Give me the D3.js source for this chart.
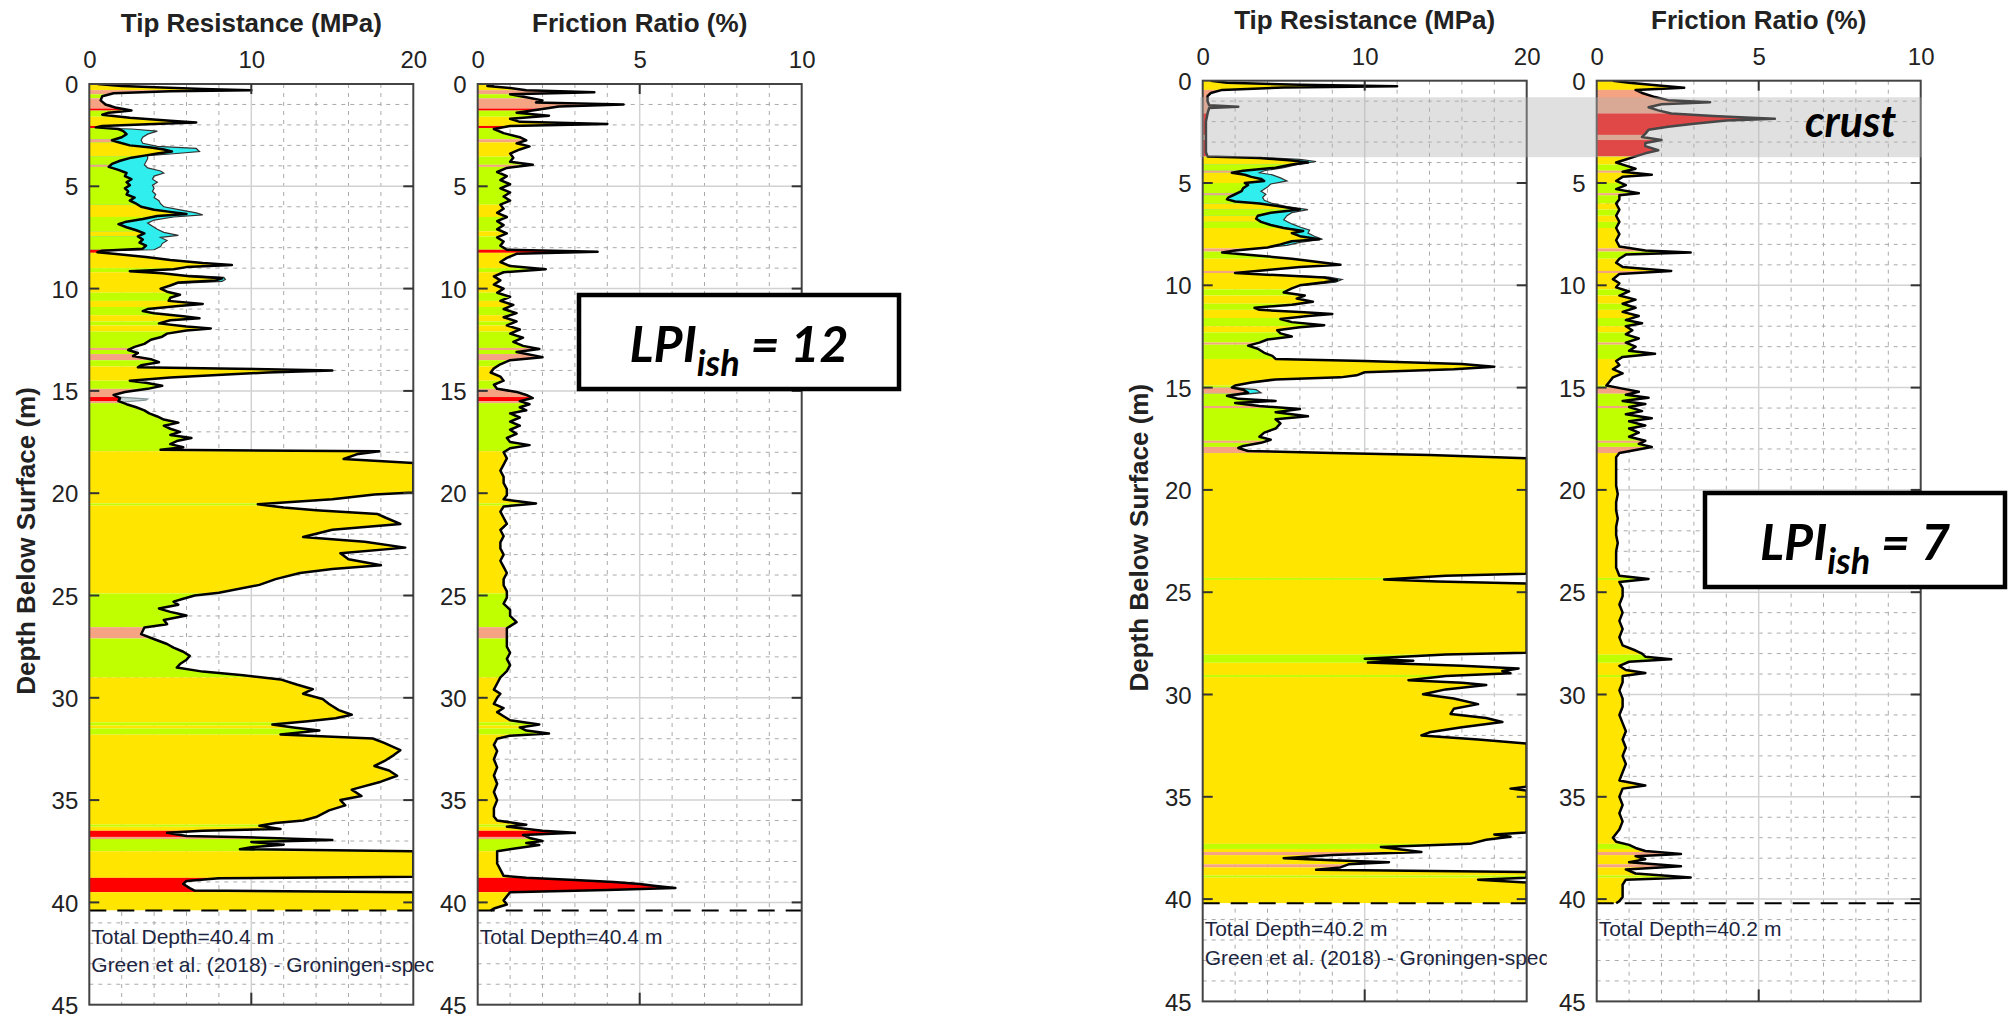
<!DOCTYPE html>
<html>
<head>
<meta charset="utf-8">
<script src="https://cdn.jsdelivr.net/npm/d3@7"></script>
<style>
  body { margin: 0; background: #fff; }
  svg { display: block; }
</style>
</head>
<body>
<svg id="chart" width="2009" height="1018"></svg>
<script>
// soil behaviour type colours
const zoneFill = {S: "#ffe500", SM: "#bfff00", M: "#f5a383", C: "#ff0000"}

const depthTicks = [0, 5, 10, 15, 20, 25, 30, 35, 40, 45]
const qcTicks = [0, 10, 20]
const rfTicks = [0, 5, 10]

// ---- left CPT (LPIish = 12) ----
// zones: [top depth, bottom depth, type]
const leftZones = [[0,0.3,"S"],[0.3,0.5,"M"],[0.5,0.7,"SM"],[0.7,1.2,"M"],[1.2,1.3,"C"],[1.3,1.6,"SM"],[1.6,2.05,"S"],[2.05,2.15,"C"],[2.15,2.7,"SM"],[2.7,2.85,"M"],[2.85,3.55,"S"],[3.55,3.95,"SM"],[3.95,4.05,"M"],[4.05,5.9,"SM"],[5.9,6.5,"S"],[6.5,7.2,"SM"],[7.2,7.45,"S"],[7.45,8.1,"SM"],[8.1,8.25,"C"],[8.25,9.0,"S"],[9.0,9.2,"SM"],[9.2,10.2,"S"],[10.2,10.6,"SM"],[10.6,10.9,"S"],[10.9,11.3,"SM"],[11.3,11.6,"S"],[11.6,11.8,"SM"],[11.8,12.1,"S"],[12.1,12.9,"SM"],[12.9,13.0,"M"],[13.0,13.2,"SM"],[13.2,13.5,"M"],[13.5,13.8,"SM"],[13.8,14.5,"S"],[14.5,14.9,"SM"],[14.9,15.3,"M"],[15.3,15.5,"C"],[15.5,15.6,"M"],[15.6,17.95,"SM"],[17.95,20.5,"S"],[20.5,20.6,"SM"],[20.6,24.9,"S"],[24.9,26.55,"SM"],[26.55,27.1,"M"],[27.1,29.0,"SM"],[29.0,31.2,"S"],[31.2,31.35,"SM"],[31.35,31.5,"S"],[31.5,31.8,"SM"],[31.8,36.2,"S"],[36.2,36.3,"SM"],[36.3,36.5,"S"],[36.5,36.8,"C"],[36.8,36.9,"M"],[36.9,37.5,"SM"],[37.5,38.8,"S"],[38.8,39.5,"C"],[39.5,40.4,"S"]]

// tip resistance: [depth m, qc MPa]
const leftQc = [[0,0.5],[0.1,2],[0.25,7],[0.3,10],[0.36,5],[0.45,1.5],[0.6,0.8],[0.8,0.7],[1.0,1.0],[1.15,1.6],[1.3,2.6],[1.4,1.2],[1.5,0.8],[1.65,2.5],[1.8,5],[1.88,6.6],[1.95,4],[2.05,0.8],[2.12,0.4],[2.2,1.8],[2.3,2.1],[2.45,2.3],[2.6,2.0],[2.75,1.4],[2.85,1.8],[3.0,2.5],[3.1,3.8],[3.2,4.6],[3.3,5.1],[3.4,4.2],[3.5,3.4],[3.6,2.6],[3.75,1.9],[3.9,1.4],[4.05,1.2],[4.2,1.8],[4.35,2.3],[4.5,2.2],[4.65,2.6],[4.8,2.3],[4.95,2.5],[5.1,2.2],[5.25,2.4],[5.4,2.3],[5.55,2.8],[5.7,2.5],[5.85,2.9],[6.0,3.2],[6.15,4.0],[6.25,5.0],[6.35,6.0],[6.45,4.2],[6.6,3.3],[6.75,2.2],[6.85,1.8],[7.0,2.3],[7.15,2.9],[7.3,3.4],[7.45,3.0],[7.6,3.3],[7.75,3.1],[7.9,3.5],[8.05,3.3],[8.15,0.8],[8.22,0.5],[8.3,1.5],[8.45,3.5],[8.6,5.0],[8.75,7.0],[8.85,8.8],[8.95,6.0],[9.05,5.2],[9.15,2.5],[9.25,4.5],[9.4,6.2],[9.5,8.2],[9.6,7.8],[9.7,5.5],[9.85,5.0],[10.0,4.4],[10.15,4.8],[10.3,5.6],[10.45,5.0],[10.6,4.9],[10.75,7.0],[10.85,5.5],[11.0,3.6],[11.1,3.3],[11.2,4.0],[11.35,5.8],[11.45,6.8],[11.55,5.0],[11.7,4.3],[11.85,6.0],[11.95,7.5],[12.05,6.0],[12.2,4.8],[12.35,4.5],[12.5,3.8],[12.7,3.4],[12.85,2.8],[13.0,2.4],[13.15,3.0],[13.3,2.7],[13.45,3.8],[13.6,4.3],[13.75,3.2],[13.85,3.0],[13.9,8.0],[14.0,15.0],[14.1,11.0],[14.2,8.5],[14.35,5.0],[14.5,2.5],[14.6,3.5],[14.75,4.5],[14.9,3.6],[15.05,2.2],[15.2,1.5],[15.35,1.9],[15.5,1.8],[15.65,2.3],[15.8,2.9],[15.95,3.4],[16.1,3.7],[16.25,4.2],[16.4,4.6],[16.55,5.5],[16.7,4.6],[16.85,5.0],[17.0,5.6],[17.15,5.0],[17.3,6.3],[17.45,5.4],[17.6,5.0],[17.75,5.8],[17.88,4.4],[17.95,17.9],[18.1,16.5],[18.33,15.7],[18.52,20],[19.96,20],[20.06,17.6],[20.3,15],[20.54,10.4],[20.7,12],[20.83,14],[21.02,17.8],[21.2,18.3],[21.5,19.2],[21.79,15],[22.14,13.2],[22.37,17],[22.66,19.5],[22.94,15.5],[23.23,16],[23.52,18],[23.7,15],[23.9,13],[24.2,11.5],[24.48,10.5],[24.87,8],[25.0,6.5],[25.16,5.8],[25.3,5.2],[25.45,5.5],[25.64,4.3],[25.8,5.0],[25.98,6.0],[26.2,4.6],[26.4,4.8],[26.56,3.4],[26.89,3.2],[27.1,3.9],[27.37,4.8],[27.55,5.2],[27.75,5.8],[27.95,6.2],[28.14,6.0],[28.35,5.6],[28.52,5.4],[28.72,7],[28.9,9.5],[29.1,11.8],[29.35,12.8],[29.58,13.8],[29.8,13.2],[30.06,14.4],[30.3,14.8],[30.6,15.4],[30.83,16.2],[31.0,15.2],[31.15,13.5],[31.31,11.3],[31.45,12.6],[31.6,14.2],[31.79,11.8],[31.99,17.5],[32.2,18.2],[32.56,19.2],[32.8,18.8],[33.1,18.2],[33.33,17.6],[33.55,18.5],[33.81,19.0],[34.1,18.0],[34.49,16.2],[34.8,16.8],[35.0,15.5],[35.26,15.8],[35.5,14.8],[35.83,14.0],[36.0,13.2],[36.12,11.5],[36.25,10.5],[36.41,11.8],[36.5,7],[36.6,4.8],[36.75,6],[36.8,9],[36.95,15],[37.05,10],[37.18,12],[37.3,10],[37.4,9.3],[37.5,20],[38.75,20],[38.82,8],[38.95,6.0],[39.1,5.8],[39.3,6.2],[39.42,6.5],[39.5,20],[40.4,20]]

// cyan (clean-sand equivalent) outline, one list per stretch
const leftCyan = [
  [[2.15,0.4],[2.2,2.6],[2.3,4.2],[2.45,3.6],[2.6,3.3],[2.75,3.2],[2.9,3.3],[3.05,4.2],[3.15,6.6],[3.3,6.8],[3.42,5.0],[3.5,3.6],[3.65,3.6],[3.8,3.5],[3.95,3.4],[4.1,3.6],[4.25,4.4],[4.35,4.6],[4.5,4.0],[4.65,3.9],[4.8,4.2],[4.95,3.9],[5.1,4.0],[5.25,3.9],[5.4,4.1],[5.55,4.0],[5.7,4.3],[5.85,4.4],[6.0,4.6],[6.15,5.6],[6.3,6.6],[6.4,7.0],[6.5,5.2],[6.65,4.0],[6.8,3.6],[6.95,3.9],[7.1,4.2],[7.25,4.6],[7.4,5.5],[7.5,4.4],[7.65,4.8],[7.8,4.5],[7.95,4.4],[8.1,4.0],[8.15,0.8]],
  [[9.35,6.2],[9.45,8.3],[9.55,8.4],[9.65,8.2],[9.75,5.5]]
]
// faint grey spike at 15.4 m
const leftGrey = [[15.3,1.9],[15.4,3.6],[15.45,3.5],[15.55,2.0]]

// friction ratio: [depth m, Rf %]
const leftRf = [[0,0.5],[0.1,0.3],[0.2,1.0],[0.3,1.5],[0.4,3.6],[0.5,1.0],[0.65,1.5],[0.8,2.0],[0.9,1.8],[1.0,4.5],[1.1,2.5],[1.25,1.9],[1.4,1.2],[1.55,2.2],[1.7,1.0],[1.85,1.3],[1.95,4.0],[2.05,1.0],[2.2,0.5],[2.4,0.8],[2.6,1.3],[2.75,1.5],[2.9,1.2],[3.05,1.6],[3.2,1.3],[3.4,1.0],[3.6,1.1],[3.8,1.0],[3.95,1.7],[4.1,0.9],[4.3,0.6],[4.5,0.9],[4.7,0.7],[4.9,1.0],[5.1,0.7],[5.3,1.0],[5.5,0.8],[5.7,1.0],[5.9,0.7],[6.1,0.8],[6.3,0.6],[6.5,0.9],[6.7,0.6],[6.9,0.8],[7.1,0.6],[7.3,0.9],[7.5,0.6],[7.7,0.8],[7.9,0.7],[8.1,0.9],[8.2,3.7],[8.3,1.2],[8.5,0.9],[8.7,0.7],[8.9,1.0],[9.05,2.1],[9.2,0.8],[9.4,0.5],[9.6,0.7],[9.8,0.5],[10.0,0.8],[10.2,0.6],[10.4,1.0],[10.6,0.7],[10.8,1.1],[11.0,0.8],[11.2,1.2],[11.4,0.8],[11.6,1.2],[11.8,0.9],[12.0,1.3],[12.2,1.0],[12.4,1.4],[12.6,1.1],[12.8,1.4],[12.95,1.9],[13.1,1.2],[13.35,2.0],[13.5,1.0],[13.7,0.7],[13.9,0.5],[14.1,0.4],[14.3,0.7],[14.5,0.8],[14.7,0.5],[14.9,0.6],[15.05,1.2],[15.2,1.5],[15.35,1.7],[15.5,1.3],[15.65,1.6],[15.8,1.3],[15.95,1.5],[16.1,1.0],[16.3,1.3],[16.5,1.0],[16.7,1.3],[16.9,1.0],[17.1,1.2],[17.3,0.9],[17.5,1.0],[17.65,1.6],[17.8,1.0],[18.0,0.8],[18.3,0.9],[18.6,0.8],[18.9,0.7],[19.2,0.8],[19.5,0.8],[19.8,0.9],[20.1,0.9],[20.3,0.8],[20.5,1.8],[20.65,0.8],[20.9,0.7],[21.2,0.8],[21.5,0.9],[21.8,0.7],[22.1,0.8],[22.4,0.7],[22.7,0.7],[23.0,0.8],[23.3,0.7],[23.6,0.8],[23.9,0.9],[24.2,0.8],[24.5,0.8],[24.8,0.9],[25.1,0.9],[25.4,0.8],[25.7,1.0],[26.0,1.0],[26.3,1.2],[26.6,0.9],[26.9,0.9],[27.2,0.9],[27.5,0.9],[27.8,1.0],[28.1,0.9],[28.4,1.0],[28.7,0.9],[29.0,0.7],[29.3,0.6],[29.6,0.5],[29.8,0.7],[30.0,0.6],[30.3,0.5],[30.5,0.8],[30.7,0.6],[30.9,0.8],[31.1,1.0],[31.3,1.9],[31.45,1.3],[31.6,1.5],[31.75,2.2],[31.85,1.0],[32.0,0.6],[32.3,0.5],[32.6,0.6],[33.0,0.5],[33.4,0.6],[33.8,0.5],[34.2,0.6],[34.6,0.5],[35.0,0.6],[35.4,0.5],[35.8,0.5],[36.0,0.6],[36.2,1.5],[36.3,0.9],[36.5,2.0],[36.6,3.0],[36.7,1.4],[36.85,1.6],[37.0,2.0],[37.1,1.5],[37.2,1.9],[37.35,1.2],[37.5,0.6],[37.8,0.6],[38.1,0.6],[38.4,0.7],[38.7,0.8],[38.8,1.5],[38.9,3.0],[39.0,4.2],[39.1,5.0],[39.2,5.5],[39.3,6.1],[39.4,4.0],[39.5,1.0],[39.7,0.9],[39.9,0.8],[40.1,0.9],[40.3,0.5],[40.4,0.4]]

// ---- right CPT (LPIish = 7) ----
const rightZones = [[0,0.45,"S"],[0.45,1.6,"M"],[1.6,2.65,"C"],[2.65,2.9,"M"],[2.9,3.7,"C"],[3.7,4.1,"S"],[4.1,4.4,"SM"],[4.4,4.5,"M"],[4.5,5.0,"S"],[5.0,5.5,"SM"],[5.5,5.6,"M"],[5.6,6.0,"SM"],[6.0,6.3,"S"],[6.3,6.6,"SM"],[6.6,6.9,"S"],[6.9,7.2,"SM"],[7.2,8.2,"S"],[8.2,8.35,"M"],[8.35,8.7,"SM"],[8.7,9.3,"S"],[9.3,9.4,"M"],[9.4,10.2,"S"],[10.2,10.5,"SM"],[10.5,10.9,"S"],[10.9,11.2,"SM"],[11.2,11.6,"S"],[11.6,12.0,"SM"],[12.0,12.3,"S"],[12.3,12.8,"SM"],[12.8,12.9,"M"],[12.9,13.6,"SM"],[13.6,14.9,"S"],[14.9,15.0,"SM"],[15.0,15.3,"M"],[15.3,15.9,"SM"],[15.9,16.0,"M"],[16.0,17.6,"SM"],[17.6,17.7,"M"],[17.7,17.9,"SM"],[17.9,18.2,"M"],[18.2,24.3,"S"],[24.3,24.4,"SM"],[24.4,28.05,"S"],[28.05,28.45,"SM"],[28.45,29.05,"S"],[29.05,29.15,"SM"],[29.15,37.3,"S"],[37.3,37.55,"SM"],[37.55,37.7,"S"],[37.7,37.85,"M"],[37.85,38.3,"S"],[38.3,38.45,"M"],[38.45,38.85,"S"],[38.85,38.95,"SM"],[38.95,40.2,"S"]]

const rightQc = [[0,0.5],[0.1,1.5],[0.2,6],[0.27,12],[0.33,5],[0.45,1.2],[0.6,0.5],[0.75,0.3],[1.0,0.3],[1.2,0.4],[1.27,2.2],[1.33,0.4],[1.6,0.3],[2.0,0.2],[2.5,0.2],[3.0,0.2],[3.5,0.2],[3.7,0.3],[3.78,3.5],[3.9,5.5],[4.0,6.5],[4.1,5.5],[4.25,4.5],[4.4,2.5],[4.5,1.8],[4.6,2.6],[4.7,3.0],[4.8,3.6],[4.9,3.8],[5.0,2.6],[5.1,2.8],[5.25,2.5],[5.4,2.4],[5.55,2.0],[5.7,1.6],[5.8,1.5],[5.9,2.0],[6.0,3.5],[6.15,4.8],[6.3,6.0],[6.45,4.2],[6.6,3.4],[6.75,3.3],[6.9,3.6],[7.05,4.2],[7.2,5.0],[7.35,6.2],[7.45,5.5],[7.6,6.0],[7.75,7.2],[7.85,5.5],[8.0,4.8],[8.15,4.0],[8.3,2.0],[8.4,1.2],[8.55,3.5],[8.7,5.5],[8.85,7.0],[9.0,8.5],[9.1,6.0],[9.25,4.0],[9.4,2.0],[9.5,4.5],[9.62,7.5],[9.75,8.3],[9.85,7.5],[10.0,6.0],[10.15,5.5],[10.35,5.0],[10.5,6.3],[10.65,5.8],[10.8,6.8],[10.95,5.5],[11.1,3.2],[11.2,3.5],[11.3,6.0],[11.4,8.0],[11.5,6.5],[11.65,4.8],[11.8,5.5],[11.95,7.5],[12.05,6.0],[12.2,4.6],[12.35,4.8],[12.5,5.5],[12.65,4.0],[12.8,3.5],[12.95,2.8],[13.1,3.4],[13.3,3.8],[13.45,4.3],[13.6,4.5],[13.7,10],[13.85,16],[13.98,18],[14.1,15.5],[14.25,10],[14.4,9.5],[14.5,8.5],[14.6,4.5],[14.75,3.0],[14.9,2.0],[15.0,1.8],[15.1,2.5],[15.25,2.8],[15.4,1.5],[15.55,2.2],[15.65,4.5],[15.75,2.0],[15.9,3.5],[16.05,6.0],[16.2,4.5],[16.4,6.5],[16.55,4.5],[16.75,4.8],[17.0,4.5],[17.2,3.8],[17.4,3.5],[17.55,4.2],[17.7,3.6],[17.85,2.5],[17.95,2.2],[18.1,2.8],[18.2,8],[18.3,14],[18.45,20],[24.1,20],[24.2,15],[24.38,11.2],[24.48,14.5],[24.58,20],[27.96,20],[28.05,15],[28.25,10],[28.35,13],[28.44,10.2],[28.6,16],[28.73,19.5],[28.85,18.5],[28.96,19],[29.1,15],[29.3,12.7],[29.42,16],[29.54,17.5],[29.75,15],[29.99,13.6],[30.2,15.5],[30.47,17],[30.7,15.5],[30.95,15.3],[31.15,17.5],[31.34,18.5],[31.6,16],[31.85,14],[32.0,13.5],[32.2,17],[32.4,20],[34.5,20],[34.6,19],[34.7,20],[36.74,20],[36.84,18],[36.95,19],[37.1,17.5],[37.3,16.5],[37.45,11],[37.55,12],[37.7,13.5],[37.85,8],[38.0,5.0],[38.1,8],[38.2,11.5],[38.3,9],[38.45,8.5],[38.57,7],[38.67,20],[38.95,20],[39.05,17],[39.19,20],[40.2,20]]

const rightCyan = [
  [[3.75,3.5],[3.85,6.0],[3.95,7.0],[4.1,5.8],[4.25,5.0],[4.4,3.8],[4.5,3.5],[4.6,4.3],[4.75,4.8],[4.9,5.2],[5.05,4.2],[5.2,4.0],[5.4,3.6],[5.55,3.9],[5.7,3.7],[5.85,3.8],[6.0,4.3],[6.15,5.2],[6.3,6.5],[6.45,5.5],[6.6,5.2],[6.8,5.0],[7.0,5.5],[7.15,6.0],[7.3,6.6],[7.45,6.5],[7.6,6.9],[7.75,7.4],[7.9,6.0],[8.05,5.2],[8.15,4.0]],
  [[9.5,4.5],[9.6,7.8],[9.72,8.6],[9.85,8.2],[10.0,6.2]],
  [[15.0,1.8],[15.1,3.3],[15.25,3.6],[15.4,1.5]]
]

const rightRf = [[0,0.5],[0.1,1.0],[0.25,2.0],[0.35,2.7],[0.45,1.2],[0.6,1.4],[0.8,1.8],[0.95,2.2],[1.05,3.5],[1.15,2.0],[1.3,1.6],[1.45,1.9],[1.6,2.3],[1.72,3.6],[1.8,4.6],[1.86,5.5],[1.95,4.0],[2.1,3.0],[2.25,2.2],[2.4,1.6],[2.6,1.5],[2.75,1.4],[2.9,2.0],[3.05,1.5],[3.2,1.5],[3.4,1.9],[3.55,1.5],[3.7,1.2],[3.85,0.9],[4.0,0.6],[4.15,0.9],[4.3,1.2],[4.45,0.8],[4.6,1.7],[4.7,0.8],[4.9,0.6],[5.1,0.9],[5.3,0.6],[5.5,1.3],[5.6,0.7],[5.8,0.7],[6.0,0.6],[6.3,0.7],[6.6,0.6],[6.9,0.7],[7.2,0.6],[7.5,0.7],[7.8,0.6],[8.1,0.7],[8.3,1.5],[8.4,2.9],[8.5,0.9],[8.7,0.7],[8.9,0.6],[9.1,0.8],[9.3,2.3],[9.45,0.7],[9.7,0.5],[9.9,0.7],[10.1,0.6],[10.3,1.0],[10.5,0.7],[10.7,1.2],[10.9,0.8],[11.1,1.2],[11.3,0.8],[11.5,1.3],[11.7,0.9],[11.85,1.4],[12.0,0.9],[12.2,1.1],[12.4,0.9],[12.6,1.3],[12.8,0.9],[13.0,1.2],[13.2,1.0],[13.35,1.8],[13.5,0.8],[13.7,0.6],[13.9,0.7],[14.1,0.5],[14.3,0.8],[14.5,0.5],[14.7,0.4],[14.9,0.3],[15.05,0.8],[15.2,1.3],[15.35,0.9],[15.5,1.6],[15.65,0.8],[15.8,1.5],[15.95,1.0],[16.15,1.4],[16.3,0.9],[16.5,1.7],[16.65,1.0],[16.85,1.5],[17.0,1.0],[17.2,1.3],[17.4,1.0],[17.6,1.5],[17.75,1.3],[17.9,1.7],[18.05,1.2],[18.2,0.7],[18.4,0.6],[18.7,0.6],[19.0,0.6],[19.4,0.6],[19.8,0.6],[20.2,0.65],[20.6,0.6],[21.0,0.6],[21.4,0.65],[21.8,0.6],[22.2,0.6],[22.6,0.65],[23.0,0.6],[23.4,0.6],[23.8,0.6],[24.2,0.7],[24.35,1.6],[24.5,0.7],[24.8,0.8],[25.2,0.8],[25.6,0.7],[26.0,0.8],[26.4,0.7],[26.8,0.8],[27.2,0.7],[27.6,0.8],[27.85,1.2],[28.0,1.4],[28.15,1.5],[28.28,2.3],[28.4,1.0],[28.6,0.7],[28.8,0.9],[28.95,1.5],[29.1,0.8],[29.4,0.8],[29.8,0.7],[30.2,0.8],[30.6,0.8],[31.0,0.7],[31.4,0.8],[31.8,0.9],[32.2,0.8],[32.6,0.9],[33.0,0.8],[33.4,0.9],[33.8,0.8],[34.2,0.7],[34.45,1.5],[34.6,0.8],[35.0,0.7],[35.4,0.8],[35.8,0.7],[36.2,0.8],[36.6,0.7],[37.0,0.5],[37.2,0.6],[37.35,1.0],[37.5,1.2],[37.65,1.5],[37.8,2.6],[37.9,1.2],[38.05,1.5],[38.2,1.0],[38.4,2.6],[38.55,0.9],[38.75,1.2],[38.95,2.9],[39.05,0.9],[39.3,0.8],[39.6,0.8],[39.9,0.8],[40.1,0.7],[40.2,0.6]]

const crustDepth = [0.81, 3.74]

const pxPerM = 20.46
const svg = d3.select("#chart")
const defs = svg.append("defs")

const profiles = [
  {id: "L", top: 84, total: 40.4, zones: leftZones, qc: leftQc, cyan: leftCyan, grey: [leftGrey], rf: leftRf,
   tipX: [89.3, 413.3], rfX: [477.7, 801.7], yTitleX: 35, lpi: "12", box: [579, 295, 320, 94]},
  {id: "R", top: 80.7, total: 40.2, zones: rightZones, qc: rightQc, cyan: rightCyan, grey: [], rf: rightRf,
   tipX: [1202.7, 1526.7], rfX: [1596.7, 1920.7], yTitleX: 1148, lpi: "7", box: [1705, 493, 300, 94]}
]

profiles.forEach(p => {
  drawPanel({id: p.id+"tip", x0: p.tipX[0], x1: p.tipX[1], top: p.top, max: 20, minor: 2, ticks: qcTicks,
    title: "Tip Resistance (MPa)", zones: p.zones, values: p.qc, cyan: p.cyan, grey: p.grey, total: p.total,
    notes: ["Total Depth="+p.total+" m", "Green et al. (2018) - Groningen-specific"]})
  drawPanel({id: p.id+"rf", x0: p.rfX[0], x1: p.rfX[1], top: p.top, max: 10, minor: 1, ticks: rfTicks,
    title: "Friction Ratio (%)", zones: p.zones, values: p.rf, cyan: [], grey: [], total: p.total,
    notes: ["Total Depth="+p.total+" m"]})

  svg.append("text")
    .attr("transform", "translate("+p.yTitleX+","+(p.top+457)+") rotate(-90)")
    .attr("text-anchor", "middle")
    .style("font", "bold 26px 'Liberation Sans', Arial, sans-serif")
    .attr("fill", "#222")
    .text("Depth Below Surface (m)")
})

// crust band over the right profile
const yR = d3.scaleLinear().domain([0, 45]).range([profiles[1].top, profiles[1].top + 45*pxPerM])
svg.append("rect")
  .attr("x", 1200).attr("width", 1922-1200)
  .attr("y", yR(crustDepth[0])).attr("height", yR(crustDepth[1]) - yR(crustDepth[0]))
  .attr("fill", "#b2b2b2").attr("opacity", 0.4)
svg.append("text")
  .attr("x", 1805).attr("y", 137)
  .style("font", "italic 700 43px Lato, 'Open Sans', sans-serif")
  .attr("fill", "#000")
  .text("crust")

// LPI boxes
profiles.forEach(p => {
  const b = p.box
  svg.append("rect")
    .attr("x", b[0]).attr("y", b[1]).attr("width", b[2]).attr("height", b[3])
    .attr("fill", "#fff").attr("stroke", "#000").attr("stroke-width", 4.5)
  const t = svg.append("text")
    .attr("x", b[0] + b[2]/2).attr("y", b[1] + 67)
    .attr("text-anchor", "middle")
    .style("font", "italic 700 50px Lato, 'Open Sans', sans-serif")
    .attr("fill", "#000")
  t.append("tspan").text("LPI")
  t.append("tspan").attr("dy", 14).style("font-size", "36px").text("ish")
  t.append("tspan").attr("dy", -14).text(" = " + p.lpi)
})

function drawPanel(opt){
  const x = d3.scaleLinear().domain([0, opt.max]).range([opt.x0, opt.x1])
  const y = d3.scaleLinear().domain([0, 45]).range([opt.top, opt.top + 45*pxPerM])
  const bottom = y(45)
  const g = svg.append("g")

  defs.append("clipPath").attr("id", opt.id+"-box")
    .append("rect").attr("x", opt.x0).attr("y", opt.top)
    .attr("width", opt.x1-opt.x0).attr("height", bottom-opt.top)

  // grid: dotted minor, solid major
  const minorX = d3.range(opt.minor, opt.max, opt.minor).filter(v => v !== opt.max/2)
  const minorY = d3.range(1, 45, 1).filter(v => v % 5 !== 0)
  g.selectAll(".mx").data(minorX).join("line")
    .attr("x1", d=>x(d)).attr("x2", d=>x(d)).attr("y1", opt.top).attr("y2", bottom)
    .attr("stroke", "#aaa").attr("stroke-dasharray", "4,5")
  g.selectAll(".my").data(minorY).join("line")
    .attr("y1", d=>y(d)).attr("y2", d=>y(d)).attr("x1", opt.x0).attr("x2", opt.x1)
    .attr("stroke", "#aaa").attr("stroke-dasharray", "4,5")
  g.append("line")
    .attr("x1", x(opt.max/2)).attr("x2", x(opt.max/2)).attr("y1", opt.top).attr("y2", bottom)
    .attr("stroke", "#d2d2d2").attr("stroke-width", 1.5)
  g.selectAll(".My").data(depthTicks.slice(1, -1)).join("line")
    .attr("y1", d=>y(d)).attr("y2", d=>y(d)).attr("x1", opt.x0).attr("x2", opt.x1)
    .attr("stroke", "#d2d2d2").attr("stroke-width", 1.5)

  const data = g.append("g").attr("clip-path", "url(#"+opt.id+"-box)")

  // cyan stretches (and faint grey ones) behind the main fill
  const sideArea = d3.area().y(d=>y(d[0])).x0(x(0)).x1(d=>x(d[1]))
  const curve = d3.line().x(d=>x(d[1])).y(d=>y(d[0]))
  opt.grey.forEach(seg => {
    data.append("path").attr("d", sideArea(seg)).attr("fill", "#c9d6d6")
    data.append("path").attr("d", curve(seg)).attr("fill", "none")
      .attr("stroke", "#8a9a9a").attr("stroke-width", 1.2)
  })
  opt.cyan.forEach(seg => {
    data.append("path").attr("d", sideArea(seg)).attr("fill", "#30eeee")
    data.append("path").attr("d", curve(seg)).attr("fill", "none")
      .attr("stroke", "#333").attr("stroke-width", 1.2)
  })

  // soil zones filled up to the measured curve
  defs.append("clipPath").attr("id", opt.id+"-fill")
    .append("path").attr("d", sideArea(opt.values))
  data.append("g").attr("clip-path", "url(#"+opt.id+"-fill)")
    .selectAll("rect").data(opt.zones).join("rect")
    .attr("x", x(0)).attr("width", x(opt.max)-x(0))
    .attr("y", d=>y(d[0])).attr("height", d=>y(d[1])-y(d[0]))
    .attr("fill", d=>zoneFill[d[2]])

  data.append("path").attr("d", curve(opt.values))
    .attr("fill", "none").attr("stroke", "#000").attr("stroke-width", 2.5)
    .attr("stroke-linejoin", "round")

  // total depth
  g.append("line")
    .attr("x1", opt.x0).attr("x2", opt.x1).attr("y1", y(opt.total)).attr("y2", y(opt.total))
    .attr("stroke", "#000").attr("stroke-width", 2).attr("stroke-dasharray", "17,11")

  // notes under the profile, cut a little past the frame
  defs.append("clipPath").attr("id", opt.id+"-note")
    .append("rect").attr("x", opt.x0).attr("y", opt.top)
    .attr("width", opt.x1-opt.x0+20).attr("height", bottom-opt.top)
  g.append("g").attr("clip-path", "url(#"+opt.id+"-note)")
    .selectAll("text").data(opt.notes).join("text")
    .attr("x", opt.x0+2).attr("y", (d,i)=>y(opt.total)+33+i*28.5)
    .style("font", "21px 'Liberation Sans', Arial, sans-serif")
    .attr("fill", "#1c2540")
    .text(d=>d)

  // frame and inner ticks
  g.append("rect").attr("x", opt.x0).attr("y", opt.top)
    .attr("width", opt.x1-opt.x0).attr("height", bottom-opt.top)
    .attr("fill", "none").attr("stroke", "#444").attr("stroke-width", 2)
  const inner = depthTicks.slice(1, -1)
  g.selectAll(".tl").data(inner).join("line")
    .attr("x1", opt.x0).attr("x2", opt.x0+10).attr("y1", d=>y(d)).attr("y2", d=>y(d))
    .attr("stroke", "#333").attr("stroke-width", 2)
  g.selectAll(".tr").data(inner).join("line")
    .attr("x1", opt.x1-10).attr("x2", opt.x1).attr("y1", d=>y(d)).attr("y2", d=>y(d))
    .attr("stroke", "#333").attr("stroke-width", 2)
  g.append("line").attr("x1", x(opt.max/2)).attr("x2", x(opt.max/2))
    .attr("y1", opt.top).attr("y2", opt.top+10).attr("stroke", "#333").attr("stroke-width", 2)
  g.append("line").attr("x1", x(opt.max/2)).attr("x2", x(opt.max/2))
    .attr("y1", bottom-12).attr("y2", bottom).attr("stroke", "#333").attr("stroke-width", 2)

  // axes: labels only
  const top = g.append("g").attr("transform", "translate(0,"+opt.top+")")
    .call(d3.axisTop(x).tickValues(opt.ticks).tickSize(0).tickPadding(16))
  const left = g.append("g").attr("transform", "translate("+opt.x0+",0)")
    .call(d3.axisLeft(y).tickValues(depthTicks).tickSize(0).tickPadding(11))
  ;[top, left].forEach(a => {
    a.select(".domain").remove()
    a.selectAll("text").style("font", "24px 'Liberation Sans', Arial, sans-serif").attr("fill", "#222")
  })
  left.selectAll("text").attr("dy", "0.36em")

  g.append("text")
    .attr("x", (opt.x0+opt.x1)/2).attr("y", opt.top-52)
    .attr("text-anchor", "middle")
    .style("font", "bold 26px 'Liberation Sans', Arial, sans-serif")
    .attr("fill", "#222")
    .text(opt.title)
}
</script>
</body>
</html>
